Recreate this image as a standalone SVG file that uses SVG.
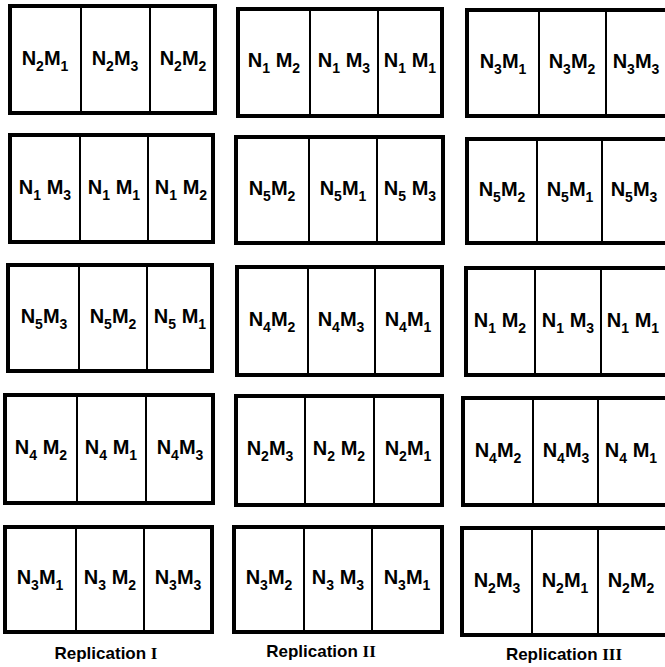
<svg xmlns="http://www.w3.org/2000/svg" width="665" height="667" viewBox="0 0 665 667">
<style>
.box{fill:#fff;stroke:#000;stroke-width:4}
.div{stroke:#000;stroke-width:2}
.t{font-family:"Liberation Sans",Arial,sans-serif;font-weight:bold;font-size:20px;fill:#000;text-anchor:middle}
.s{font-size:14px}
.rep{font-family:"Liberation Sans",Arial,sans-serif;font-weight:bold;font-size:17px;fill:#000;text-anchor:middle}
.rn{font-family:"Liberation Serif","Times New Roman",serif;font-weight:bold}
</style>
<rect width="665" height="667" fill="#fff"/>

<!-- Replication I -->
<g id="r1-b1">
<rect class="box" x="10" y="6" width="205" height="107"/>
<line class="div" x1="81" y1="6" x2="81" y2="113"/><line class="div" x1="150" y1="6" x2="150" y2="113"/>
<text class="t" x="45" y="65">N<tspan class="s" dy="6">2</tspan><tspan dy="-6">M</tspan><tspan class="s" dy="6">1</tspan></text>
<text class="t" x="115" y="65">N<tspan class="s" dy="6">2</tspan><tspan dy="-6">M</tspan><tspan class="s" dy="6">3</tspan></text>
<text class="t" x="183" y="65">N<tspan class="s" dy="6">2</tspan><tspan dy="-6">M</tspan><tspan class="s" dy="6">2</tspan></text>
</g>
<g id="r1-b2">
<rect class="box" x="10" y="135" width="203" height="107"/>
<line class="div" x1="80" y1="135" x2="80" y2="242"/><line class="div" x1="148" y1="135" x2="148" y2="242"/>
<text class="t" x="45" y="194">N<tspan class="s" dy="6">1</tspan><tspan dy="-6"> M</tspan><tspan class="s" dy="6">3</tspan></text>
<text class="t" x="114" y="194">N<tspan class="s" dy="6">1</tspan><tspan dy="-6"> M</tspan><tspan class="s" dy="6">1</tspan></text>
<text class="t" x="181" y="194">N<tspan class="s" dy="6">1</tspan><tspan dy="-6"> M</tspan><tspan class="s" dy="6">2</tspan></text>
</g>
<g id="r1-b3">
<rect class="box" x="8" y="265" width="204" height="106"/>
<line class="div" x1="79" y1="265" x2="79" y2="371"/><line class="div" x1="147" y1="265" x2="147" y2="371"/>
<text class="t" x="44" y="323">N<tspan class="s" dy="6">5</tspan><tspan dy="-6">M</tspan><tspan class="s" dy="6">3</tspan></text>
<text class="t" x="113" y="323">N<tspan class="s" dy="6">5</tspan><tspan dy="-6">M</tspan><tspan class="s" dy="6">2</tspan></text>
<text class="t" x="180" y="323">N<tspan class="s" dy="6">5</tspan><tspan dy="-6"> M</tspan><tspan class="s" dy="6">1</tspan></text>
</g>
<g id="r1-b4">
<rect class="box" x="5" y="395" width="208" height="108"/>
<line class="div" x1="77" y1="395" x2="77" y2="503"/><line class="div" x1="146" y1="395" x2="146" y2="503"/>
<text class="t" x="41" y="454">N<tspan class="s" dy="6">4</tspan><tspan dy="-6"> M</tspan><tspan class="s" dy="6">2</tspan></text>
<text class="t" x="111" y="454">N<tspan class="s" dy="6">4</tspan><tspan dy="-6"> M</tspan><tspan class="s" dy="6">1</tspan></text>
<text class="t" x="180" y="454">N<tspan class="s" dy="6">4</tspan><tspan dy="-6">M</tspan><tspan class="s" dy="6">3</tspan></text>
</g>
<g id="r1-b5">
<rect class="box" x="5" y="527" width="207" height="105"/>
<line class="div" x1="76" y1="527" x2="76" y2="632"/><line class="div" x1="144" y1="527" x2="144" y2="632"/>
<text class="t" x="40" y="584">N<tspan class="s" dy="6">3</tspan><tspan dy="-6">M</tspan><tspan class="s" dy="6">1</tspan></text>
<text class="t" x="110" y="584">N<tspan class="s" dy="6">3</tspan><tspan dy="-6"> M</tspan><tspan class="s" dy="6">2</tspan></text>
<text class="t" x="178" y="584">N<tspan class="s" dy="6">3</tspan><tspan dy="-6">M</tspan><tspan class="s" dy="6">3</tspan></text>
</g>

<!-- Replication II -->
<g id="r2-b1">
<rect class="box" x="238" y="9" width="204" height="107"/>
<line class="div" x1="310" y1="9" x2="310" y2="116"/><line class="div" x1="378" y1="9" x2="378" y2="116"/>
<text class="t" x="274" y="67">N<tspan class="s" dy="6">1</tspan><tspan dy="-6"> M</tspan><tspan class="s" dy="6">2</tspan></text>
<text class="t" x="344" y="67">N<tspan class="s" dy="6">1</tspan><tspan dy="-6"> M</tspan><tspan class="s" dy="6">3</tspan></text>
<text class="t" x="410" y="67">N<tspan class="s" dy="6">1</tspan><tspan dy="-6"> M</tspan><tspan class="s" dy="6">1</tspan></text>
</g>
<g id="r2-b2">
<rect class="box" x="236" y="137" width="207" height="106"/>
<line class="div" x1="309" y1="137" x2="309" y2="243"/><line class="div" x1="377" y1="137" x2="377" y2="243"/>
<text class="t" x="272" y="195">N<tspan class="s" dy="6">5</tspan><tspan dy="-6">M</tspan><tspan class="s" dy="6">2</tspan></text>
<text class="t" x="343" y="195">N<tspan class="s" dy="6">5</tspan><tspan dy="-6">M</tspan><tspan class="s" dy="6">1</tspan></text>
<text class="t" x="410" y="195">N<tspan class="s" dy="6">5</tspan><tspan dy="-6"> M</tspan><tspan class="s" dy="6">3</tspan></text>
</g>
<g id="r2-b3">
<rect class="box" x="237" y="267" width="205" height="108"/>
<line class="div" x1="308" y1="267" x2="308" y2="375"/><line class="div" x1="375" y1="267" x2="375" y2="375"/>
<text class="t" x="272" y="326">N<tspan class="s" dy="6">4</tspan><tspan dy="-6">M</tspan><tspan class="s" dy="6">2</tspan></text>
<text class="t" x="341" y="326">N<tspan class="s" dy="6">4</tspan><tspan dy="-6">M</tspan><tspan class="s" dy="6">3</tspan></text>
<text class="t" x="408" y="326">N<tspan class="s" dy="6">4</tspan><tspan dy="-6">M</tspan><tspan class="s" dy="6">1</tspan></text>
</g>
<g id="r2-b4">
<rect class="box" x="236" y="396" width="206" height="109"/>
<line class="div" x1="305" y1="396" x2="305" y2="505"/><line class="div" x1="374" y1="396" x2="374" y2="505"/>
<text class="t" x="270" y="455">N<tspan class="s" dy="6">2</tspan><tspan dy="-6">M</tspan><tspan class="s" dy="6">3</tspan></text>
<text class="t" x="339" y="455">N<tspan class="s" dy="6">2</tspan><tspan dy="-6"> M</tspan><tspan class="s" dy="6">2</tspan></text>
<text class="t" x="408" y="455">N<tspan class="s" dy="6">2</tspan><tspan dy="-6">M</tspan><tspan class="s" dy="6">1</tspan></text>
</g>
<g id="r2-b5">
<rect class="box" x="234" y="527" width="208" height="105"/>
<line class="div" x1="304" y1="527" x2="304" y2="632"/><line class="div" x1="372" y1="527" x2="372" y2="632"/>
<text class="t" x="269" y="584">N<tspan class="s" dy="6">3</tspan><tspan dy="-6">M</tspan><tspan class="s" dy="6">2</tspan></text>
<text class="t" x="338" y="584">N<tspan class="s" dy="6">3</tspan><tspan dy="-6"> M</tspan><tspan class="s" dy="6">3</tspan></text>
<text class="t" x="407" y="584">N<tspan class="s" dy="6">3</tspan><tspan dy="-6">M</tspan><tspan class="s" dy="6">1</tspan></text>
</g>

<!-- Replication III -->
<g id="r3-b1">
<rect class="box" x="467" y="10" width="201" height="106"/>
<line class="div" x1="539" y1="10" x2="539" y2="116"/><line class="div" x1="606" y1="10" x2="606" y2="116"/>
<text class="t" x="503" y="68">N<tspan class="s" dy="6">3</tspan><tspan dy="-6">M</tspan><tspan class="s" dy="6">1</tspan></text>
<text class="t" x="572" y="68">N<tspan class="s" dy="6">3</tspan><tspan dy="-6">M</tspan><tspan class="s" dy="6">2</tspan></text>
<text class="t" x="636" y="68">N<tspan class="s" dy="6">3</tspan><tspan dy="-6">M</tspan><tspan class="s" dy="6">3</tspan></text>
</g>
<g id="r3-b2">
<rect class="box" x="467" y="139" width="201" height="104"/>
<line class="div" x1="537" y1="139" x2="537" y2="243"/><line class="div" x1="602" y1="139" x2="602" y2="243"/>
<text class="t" x="502" y="196">N<tspan class="s" dy="6">5</tspan><tspan dy="-6">M</tspan><tspan class="s" dy="6">2</tspan></text>
<text class="t" x="570" y="196">N<tspan class="s" dy="6">5</tspan><tspan dy="-6">M</tspan><tspan class="s" dy="6">1</tspan></text>
<text class="t" x="634" y="196">N<tspan class="s" dy="6">5</tspan><tspan dy="-6">M</tspan><tspan class="s" dy="6">3</tspan></text>
</g>
<g id="r3-b3">
<rect class="box" x="466" y="268" width="202" height="107"/>
<line class="div" x1="535" y1="268" x2="535" y2="375"/><line class="div" x1="601" y1="268" x2="601" y2="375"/>
<text class="t" x="500" y="327">N<tspan class="s" dy="6">1</tspan><tspan dy="-6"> M</tspan><tspan class="s" dy="6">2</tspan></text>
<text class="t" x="568" y="327">N<tspan class="s" dy="6">1</tspan><tspan dy="-6"> M</tspan><tspan class="s" dy="6">3</tspan></text>
<text class="t" x="633" y="327">N<tspan class="s" dy="6">1</tspan><tspan dy="-6"> M</tspan><tspan class="s" dy="6">1</tspan></text>
</g>
<g id="r3-b4">
<rect class="box" x="463" y="398" width="205" height="107"/>
<line class="div" x1="533" y1="398" x2="533" y2="505"/><line class="div" x1="598" y1="398" x2="598" y2="505"/>
<text class="t" x="498" y="457">N<tspan class="s" dy="6">4</tspan><tspan dy="-6">M</tspan><tspan class="s" dy="6">2</tspan></text>
<text class="t" x="566" y="457">N<tspan class="s" dy="6">4</tspan><tspan dy="-6">M</tspan><tspan class="s" dy="6">3</tspan></text>
<text class="t" x="631" y="457">N<tspan class="s" dy="6">4</tspan><tspan dy="-6"> M</tspan><tspan class="s" dy="6">1</tspan></text>
</g>
<g id="r3-b5">
<rect class="box" x="462" y="528" width="206" height="107"/>
<line class="div" x1="532" y1="528" x2="532" y2="635"/><line class="div" x1="598" y1="528" x2="598" y2="635"/>
<text class="t" x="497" y="587">N<tspan class="s" dy="6">2</tspan><tspan dy="-6">M</tspan><tspan class="s" dy="6">3</tspan></text>
<text class="t" x="565" y="587">N<tspan class="s" dy="6">2</tspan><tspan dy="-6">M</tspan><tspan class="s" dy="6">1</tspan></text>
<text class="t" x="631" y="587">N<tspan class="s" dy="6">2</tspan><tspan dy="-6">M</tspan><tspan class="s" dy="6">2</tspan></text>
</g>

<g id="labels">
<text class="rep" x="106" y="659">Replication <tspan class="rn">I</tspan></text>
<text class="rep" x="321" y="657">Replication <tspan class="rn">II</tspan></text>
<text class="rep" x="564" y="660">Replication <tspan class="rn">III</tspan></text>
</g>
</svg>
